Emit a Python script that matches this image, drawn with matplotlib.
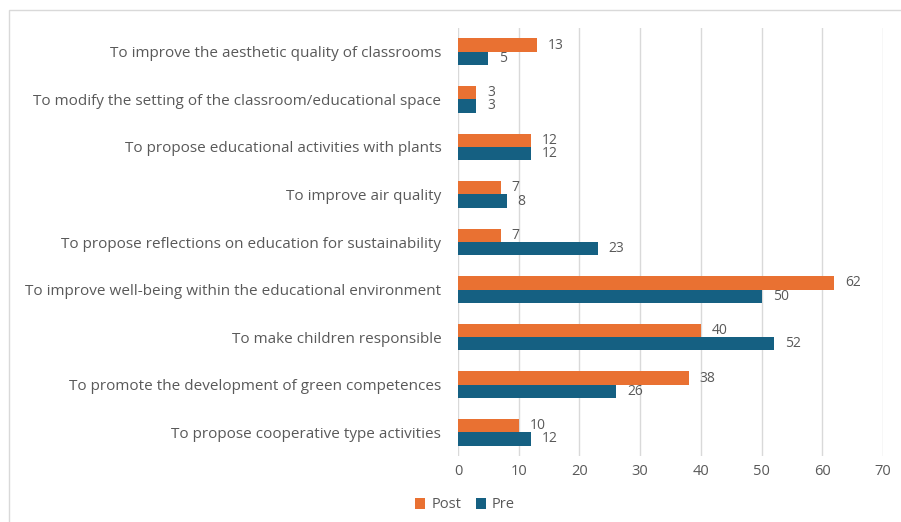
import matplotlib
matplotlib.use("Agg")
import matplotlib.pyplot as plt
import numpy as np
from matplotlib.patches import Rectangle

categories = [
    "To improve the aesthetic quality of classrooms",
    "To modify the setting of the classroom/educational space",
    "To propose educational activities with plants",
    "To improve air quality",
    "To propose reflections on education for sustainability",
    "To improve well-being within the educational environment",
    "To make children responsible",
    "To promote the development of green competences",
    "To propose cooperative type activities",
]
post = [13, 3, 12, 7, 7, 62, 40, 38, 10]
pre = [5, 3, 12, 8, 23, 50, 52, 26, 12]
xticks = [0, 10, 20, 30, 40, 50, 60, 70]

plt.rcParams['font.family'] = ['Open Sans', 'DejaVu Sans']
text_color = '#595959'
c_post = '#E97132'
c_pre = '#156082'

W, H = 901, 522
fig = plt.figure(figsize=(W / 100, H / 100), dpi=100)
ax = fig.add_axes([458 / W, 1 - 456 / H, (883 - 458) / W, (456 - 28) / H])

# outer frame
fig.patches.append(Rectangle((9 / W, -0.1), 1.2, 1 - 10 / H + 0.1, transform=fig.transFigure,
                             fill=False, edgecolor='#D9D9D9', linewidth=1.0, zorder=0))

y = np.arange(len(categories))
h = 0.28
ax.barh(y - h / 2, post, height=h, color=c_post, label='Post', zorder=3)
ax.barh(y + h / 2, pre, height=h, color=c_pre, label='Pre', zorder=3)

for yi, v in zip(y, post):
    ax.annotate(str(v), (v, yi - h / 2), xytext=(8, 0), textcoords='offset points',
                va='center', ha='left', fontsize=10, color=text_color)
for yi, v in zip(y, pre):
    ax.annotate(str(v), (v, yi + h / 2), xytext=(8, 0), textcoords='offset points',
                va='center', ha='left', fontsize=10, color=text_color)

ax.set_xlim(0, 70)
ax.set_ylim(len(categories) - 0.5, -0.5)
ax.set_xticks(xticks)
ax.set_yticks(y)
ax.set_yticklabels(categories)
ax.tick_params(axis='x', length=0, colors=text_color, labelsize=10.5, pad=6)
ax.tick_params(axis='y', length=0, colors=text_color, labelsize=11, pad=12)
ax.xaxis.grid(True, color='#D9D9D9', linewidth=1.0, zorder=0)
ax.set_axisbelow(True)
for s in ax.spines.values():
    s.set_visible(False)

fig.legend(loc='center', bbox_to_anchor=(465 / W, 1 - 505 / H), ncol=2, frameon=False,
           fontsize=10.5, labelcolor=text_color, handlelength=0.7, handleheight=0.7,
           handletextpad=0.4, columnspacing=1.0)

fig.savefig('out.png', dpi=100)
